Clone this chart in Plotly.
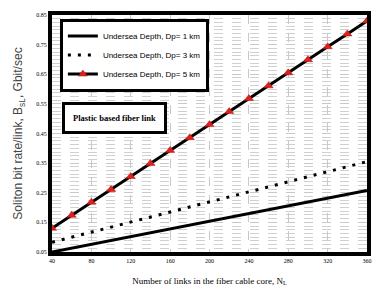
import plotly.graph_objects as go

links = [40, 60, 80, 100, 120, 140, 160, 180, 200, 220, 240, 260, 280, 300, 320, 340, 360]
rate_dp1 = [0.05, 0.063, 0.076, 0.089, 0.102, 0.115, 0.128, 0.141, 0.154, 0.167, 0.180, 0.193, 0.206, 0.219, 0.232, 0.245, 0.258]
rate_dp3 = [0.083, 0.100, 0.117, 0.134, 0.151, 0.168, 0.185, 0.202, 0.219, 0.236, 0.253, 0.270, 0.287, 0.304, 0.321, 0.338, 0.355]
rate_dp5 = [0.13, 0.174, 0.218, 0.261, 0.305, 0.349, 0.393, 0.436, 0.480, 0.524, 0.568, 0.611, 0.655, 0.699, 0.743, 0.786, 0.83]
series_names = ["Undersea Depth, Dp= 1 km", "Undersea Depth, Dp= 3 km", "Undersea Depth, Dp= 5 km"]
y_ticks = [0.05, 0.15, 0.25, 0.35, 0.45, 0.55, 0.65, 0.75, 0.85]
x_ticks = [40, 80, 120, 160, 200, 240, 280, 320, 360]

fig = go.Figure()
fig.add_trace(go.Scatter(x=links, y=rate_dp1, mode="lines", name=series_names[0],
                         line=dict(color="black", width=3)))
fig.add_trace(go.Scatter(x=links, y=rate_dp3, mode="lines", name=series_names[1],
                         line=dict(color="black", width=3, dash="3px,7px")))
fig.add_trace(go.Scatter(x=links, y=rate_dp5, mode="lines+markers", name=series_names[2],
                         line=dict(color="black", width=3),
                         marker=dict(symbol="triangle-up", size=8, color="#e0201a",
                                     line=dict(color="#b01010", width=0.5))))

fig.update_layout(
    width=383, height=297,
    margin=dict(l=52, r=11, t=12, b=41),
    paper_bgcolor="white", plot_bgcolor="white",
    showlegend=True,
    legend=dict(x=0.025, y=0.985, xanchor="left", yanchor="top",
                bgcolor="white", bordercolor="black", borderwidth=3,
                font=dict(family="Liberation Sans, Arial", size=8, color="black"),
                itemwidth=30, tracegroupgap=2),
    font=dict(family="Liberation Serif, Times New Roman", color="black"),
    annotations=[dict(text="<b>Plastic based fiber link</b>", x=0.197, y=0.566,
                      xanchor="center", yanchor="middle",
                      xref="paper", yref="paper", showarrow=False,
                      font=dict(family="Liberation Serif, Times New Roman", size=8.5, color="black"),
                      bgcolor="white", bordercolor="black", borderwidth=3,
                      borderpad=8)],
)
fig.update_xaxes(range=[40, 360], tickvals=x_ticks, ticktext=[str(v) for v in x_ticks],
                 showline=True, linecolor="black", linewidth=4, mirror=True,
                 showgrid=True, gridcolor="#c8c8c8", griddash="dash", gridwidth=1,
                 tickfont=dict(size=6, family="Liberation Serif"), ticks="",
                 zeroline=False,
                 title=dict(text="Number of links in the fiber cable core, N<sub>L</sub>",
                            font=dict(size=9, family="Liberation Serif, Times New Roman"),
                            standoff=15))
fig.update_yaxes(range=[0.05, 0.85], tickvals=y_ticks, ticktext=[f"{v:.2f}" for v in y_ticks],
                 showline=True, linecolor="black", linewidth=4, mirror=True,
                 showgrid=True, gridcolor="#c8c8c8", griddash="dash", gridwidth=1,
                 minor=dict(dtick=0.0125, tick0=0.05, showgrid=True, gridcolor="#d0d0d0",
                            griddash="dash", gridwidth=1),
                 tickfont=dict(size=6, family="Liberation Serif"), ticks="",
                 zeroline=False,
                 title=dict(text="Soliton bit rate/link, B<sub>sL</sub>, Gbit/sec",
                            font=dict(size=12, family="Liberation Sans, Arial", color="#444"),
                            standoff=12))

fig.write_html("out.html", config={"displayModeBar": False},
               post_script="document.body.style.margin='0';")
